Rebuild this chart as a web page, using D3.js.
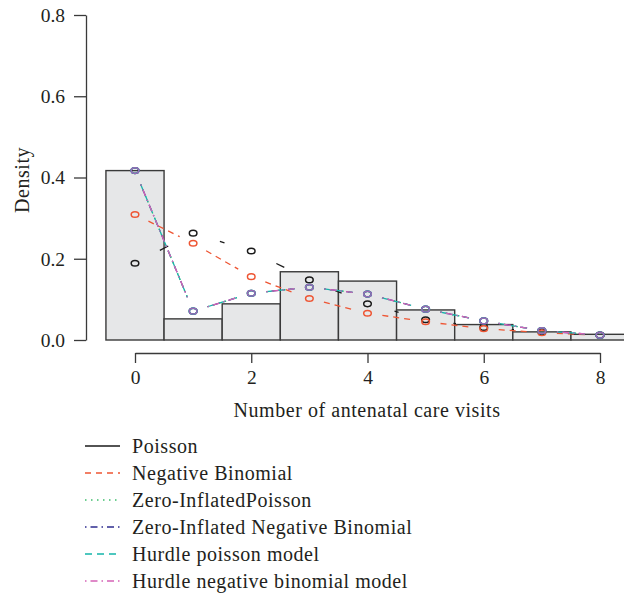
<head>
	<meta charset="utf-8">
	<script src="https://d3js.org/d3.v7.min.js"></script>
	<style>
		body {
			margin: 0;
			background: #fff;
		}
		text {
			font-family: "Liberation Serif", "Times New Roman", serif;
			fill: #231f20;
		}
		.label {
			font-size: 20px;
			letter-spacing: 0.55px;
		}
	</style>
</head>
<body>

<svg width="624" height="599" id="chart"></svg>

<script>

	var visits = [0, 1, 2, 3, 4, 5, 6, 7, 8];
	var observed = [0.417, 0.052, 0.089, 0.168, 0.145, 0.074, 0.038, 0.020, 0.014];

	var poisson = [0.189, 0.263, 0.219, 0.148, 0.089, 0.050, 0.031, 0.020, 0.012];
	var negBin  = [0.309, 0.238, 0.156, 0.102, 0.066, 0.045, 0.028, 0.018, 0.012];
	var zip     = [0.417, 0.071, 0.115, 0.130, 0.113, 0.076, 0.047, 0.023, 0.012];
	var zinb    = [0.417, 0.071, 0.115, 0.130, 0.113, 0.076, 0.047, 0.023, 0.012];
	var hurdleP = [0.417, 0.071, 0.115, 0.130, 0.113, 0.076, 0.047, 0.023, 0.012];
	var hurdleNB = [0.417, 0.071, 0.115, 0.130, 0.113, 0.076, 0.047, 0.023, 0.012];

	var yTicks = [0, 0.2, 0.4, 0.6, 0.8];
	var xTicks = [0, 2, 4, 6, 8];

	var series = [
		{name: "Poisson", values: poisson, color: "#1a1a1a", dot: "#1a1a1a", dash: null, gap: 28},
		{name: "Negative Binomial", values: negBin, color: "#ee5533", dot: "#ee5533", dash: "6,5", gap: 15},
		{name: "Zero-InflatedPoisson", values: zip, color: "#3ebe6c", dot: "#3ebe6c", dash: "1.5,4.5", gap: 15},
		{name: "Zero-Inflated Negative Binomial", values: zinb, color: "#2e2c8f", dot: "#2e2c8f", dash: "1.5,4,7,4", gap: 15},
		{name: "Hurdle poisson model", values: hurdleP, color: "#15b5aa", dot: "#15b5aa", dash: "7,5", gap: 15},
		{name: "Hurdle negative binomial model", values: hurdleNB, color: "#d563b6", dot: "#9c68b4", dash: "1.5,4,7,4", gap: 15}
	];

	var svg = d3.select("#chart");

	var x = d3.scaleLinear().domain([0, 8]).range([135, 600]);
	var y = d3.scaleLinear().domain([0, 0.8]).range([340, 15]);

	// histogram bars
	svg.append("g").selectAll("rect")
		.data(observed)
		.enter().append("rect")
		.attr("x", (d, i) => x(visits[i] - 0.5))
		.attr("width", (d, i) => x(visits[i] + 0.5) - x(visits[i] - 0.5))
		.attr("y", d => y(d))
		.attr("height", d => y(0) - y(d))
		.attr("fill", "#e6e7e8")
		.attr("stroke", "#3a3a3a")
		.attr("stroke-width", 1.4);

	// axes
	var yAxis = svg.append("g")
		.attr("transform", "translate(86,0)")
		.call(d3.axisLeft(y).tickValues(yTicks).tickFormat(d3.format(".1f"))
			.tickSize(12).tickSizeOuter(0).tickPadding(9));

	var xAxis = svg.append("g")
		.attr("transform", "translate(0,353)")
		.call(d3.axisBottom(x).tickValues(xTicks).tickFormat(d3.format("d"))
			.tickSize(10).tickSizeOuter(0).tickPadding(7));

	[yAxis, xAxis].forEach(function(a) {
		a.selectAll("path, line").attr("stroke", "#3a3a3a").attr("stroke-width", 1.3);
		a.selectAll("text").style("font-size", "19.5px").attr("fill", "#231f20")
			.style("font-family", "'Liberation Serif', serif");
	});

	svg.append("text")
		.attr("class", "label")
		.attr("x", 367)
		.attr("y", 417)
		.attr("text-anchor", "middle")
		.text("Number of antenatal care visits");

	svg.append("text")
		.attr("class", "label")
		.attr("transform", "translate(29,180) rotate(-90)")
		.attr("text-anchor", "middle")
		.text("Density");

	// type "b" style: segments with a gap around each point
	series.forEach(function(s) {
		var g = svg.append("g");
		var pts = s.values.map((v, i) => [x(visits[i]), y(v)]);

		var segs = d3.pairs(pts).map(function(p) {
			var dx = p[1][0] - p[0][0], dy = p[1][1] - p[0][1];
			var len = Math.sqrt(dx * dx + dy * dy);
			var f = s.gap / len;
			if (f >= 0.5) return null;
			return [p[0][0] + dx * f, p[0][1] + dy * f, p[1][0] - dx * f, p[1][1] - dy * f];
		}).filter(d => d);

		g.selectAll("line")
			.data(segs)
			.enter().append("line")
			.attr("x1", d => d[0]).attr("y1", d => d[1])
			.attr("x2", d => d[2]).attr("y2", d => d[3])
			.attr("stroke", s.color)
			.attr("stroke-width", 1.3)
			.attr("stroke-dasharray", s.dash);

		g.selectAll("ellipse")
			.data(pts)
			.enter().append("ellipse")
			.attr("cx", d => d[0])
			.attr("cy", d => d[1])
			.attr("rx", 3.8)
			.attr("ry", 2.8)
			.attr("fill", "none")
			.attr("stroke", s.dot)
			.attr("stroke-width", 1.5);
	});

	// legend
	var legend = svg.selectAll(".legend")
		.data(series)
		.enter().append("g")
		.attr("class", "legend")
		.attr("transform", (d, i) => `translate(0,${446 + i * 27})`);

	legend.append("line")
		.attr("x1", 85)
		.attr("x2", 120)
		.attr("stroke", d => d.color)
		.attr("stroke-width", 1.4)
		.attr("stroke-dasharray", d => d.dash);

	legend.append("text")
		.attr("class", "label")
		.attr("x", 132)
		.attr("y", 6.5)
		.text(d => d.name);

</script>
</body>
